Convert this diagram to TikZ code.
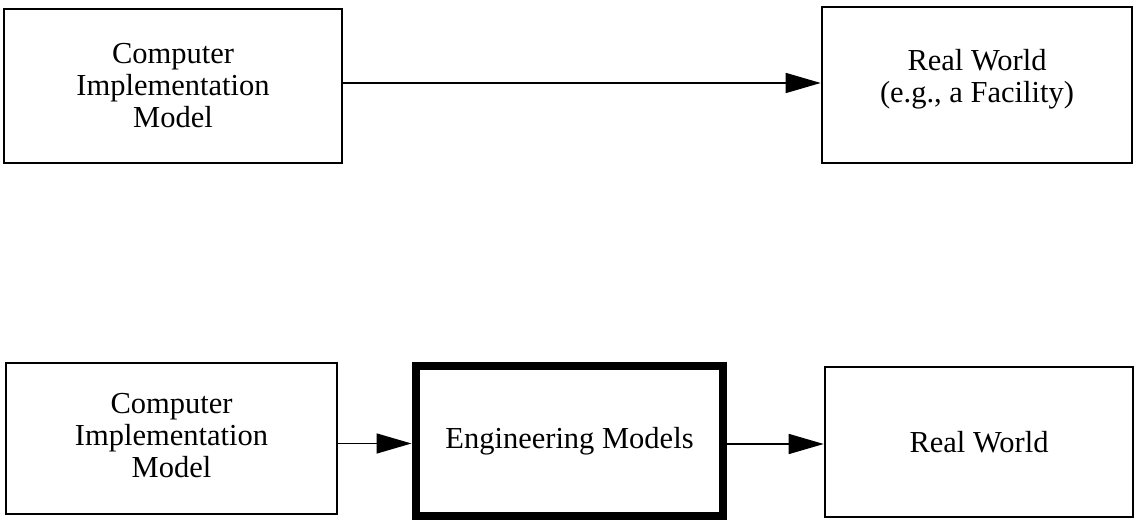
\documentclass[tikz,border=0pt]{standalone}
\usepackage{fontspec}
\setmainfont{Liberation Serif}
\usetikzlibrary{arrows.meta}
\tikzset{
  box/.style={draw, line width=1.6pt, align=center, inner sep=0pt,
    font=\fontsize{30.5}{32}\selectfont},
  heavybox/.style={box, line width=8pt},
  arr/.style={line width=1.5pt, -{Triangle[length=35pt, width=20pt]}, shorten >=0.5pt}
}
% extra depth under a label lifts it within its box
\newcommand\liftby[1]{\rule[-#1]{0pt}{0pt}}
\begin{document}
\begin{tikzpicture}[x=1pt, y=1pt]
  \useasboundingbox (0,0) rectangle (1135,521);
  % upper row: direct mapping
  \node[box, minimum width=338pt, minimum height=154pt] (cim1) at (173,435)
    {Computer\\Implementation\\Model};
  \node[box, minimum width=310pt, minimum height=156pt] (rw1) at (977,436)
    {Real World\\(e.g., a Facility)\liftby{19pt}};
  \coordinate (t1) at ([yshift=3pt]cim1.east);
  \draw[arr] (t1) -- (t1 -| rw1.west);
  % lower row: mapping through engineering models
  \node[box, minimum width=331pt, minimum height=151pt] (cim2) at (171.5,82.5)
    {Computer\\Implementation\\Model\liftby{7pt}};
  \node[heavybox, minimum width=307pt, minimum height=150pt] (em) at (569.5,80)
    {Engineering Models};
  \node[box, minimum width=308pt, minimum height=150pt] (rw2) at (979,79)
    {Real World};
  \coordinate (b1) at ([yshift=-2.5pt]em.west);
  \coordinate (b2) at ([yshift=-3pt]em.east);
  \draw[arr] (cim2.east |- b1) -- (b1);
  \draw[arr] (b2) -- (b2 -| rw2.west);
\end{tikzpicture}
\end{document}
